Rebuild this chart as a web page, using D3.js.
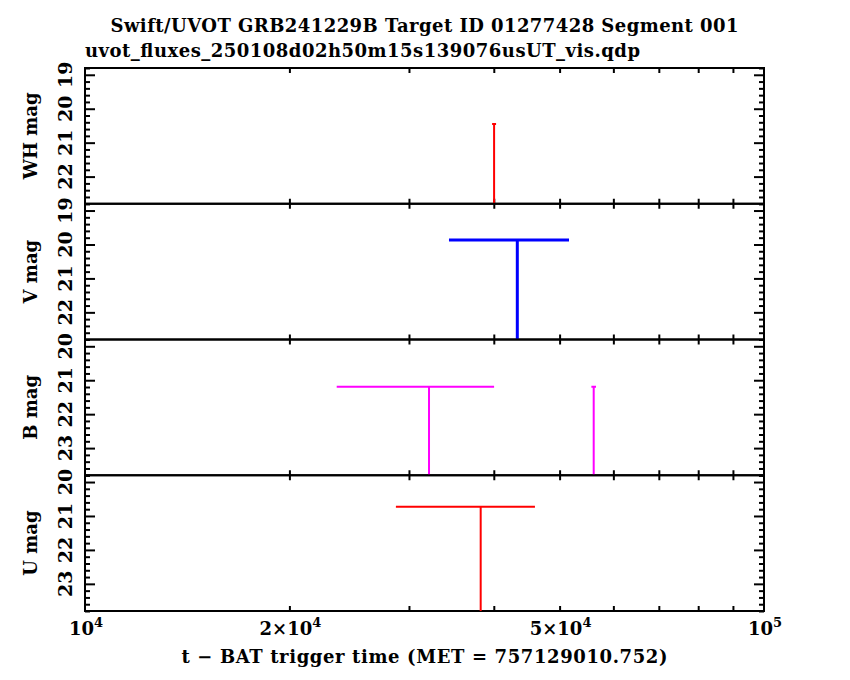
<!DOCTYPE html>
<html lang="en">
	<head>
		<meta charset="utf-8">
		<title>UVOT light curve</title>
		<script type="text/javascript" src="https://d3js.org/d3.v7.min.js"></script>
		<style>
			body { margin: 0; background: #fff; }
			text { font-family: "DejaVu Serif", serif; font-weight: bold; fill: #000; }
			.tick line { stroke: #000; stroke-width: 2; }
		</style>
	</head>
	<body>
		<script type="text/javascript">

			// ---------------- data ----------------
			var bands = ["WH", "V", "B", "U"];

			// mag axis range of each panel (top, bottom) and its labelled ticks
			var magRange = [[18.8, 22.8], [18.8, 22.8], [19.8, 23.8], [19.8, 23.8]];
			var magTicks = [[19, 20, 21, 22], [19, 20, 21, 22], [20, 21, 22, 23], [20, 21, 22, 23]];

			// upper limits: time (s), time bin edges, limiting mag
			var whTime = [40040],        whLo = [39770],        whHi = [40310],        whMag = [20.45];
			var vTime  = [43320],        vLo  = [34360],        vHi  = [51620],        vMag  = [19.87];
			var bTime  = [32110, 56130], bLo  = [23480, 55690], bHi  = [40040, 56570], bMag  = [21.19, 21.19];
			var uTime  = [38260],        uLo  = [28700],        uHi  = [45990],        uMag  = [20.73];

			var timeTicks = [2e4, 3e4, 4e4, 5e4, 6e4, 7e4, 8e4, 9e4];
			var timeLabels = [[1e4, "10", "4"], [2e4, "2×10", "4"], [5e4, "5×10", "4"], [1e5, "10", "5"]];

			var title = "Swift/UVOT GRB241229B Target ID 01277428 Segment 001";
			var subtitle = "uvot_fluxes_250108d02h50m15s139076usUT_vis.qdp";
			var xTitle = "t − BAT trigger time (MET = 757129010.752)";

			// styles
			var colors = {WH: "#ff0000", V: "#0000ff", B: "#ff00ff", U: "#ff0000"};
			var widths = {WH: 2, V: 3, B: 2, U: 2};

			var points = {
				WH: whTime.map(function(t, i) { return {t: t, lo: whLo[i], hi: whHi[i], mag: whMag[i]}; }),
				V:  vTime.map(function(t, i)  { return {t: t, lo: vLo[i],  hi: vHi[i],  mag: vMag[i]}; }),
				B:  bTime.map(function(t, i)  { return {t: t, lo: bLo[i],  hi: bHi[i],  mag: bMag[i]}; }),
				U:  uTime.map(function(t, i)  { return {t: t, lo: uLo[i],  hi: uHi[i],  mag: uMag[i]}; })
			};

			// ---------------- layout ----------------
			var W = 850, H = 680;
			var plotL = 85, plotR = 764, plotT = 68, panelH = 135.75;

			var svg = d3.select("body")
						.append("svg")
						.attr("width", W)
						.attr("height", H);

			var xScale = d3.scaleLog()
						   .domain([1e4, 1e5])
						   .range([plotL, plotR]);

			bands.forEach(function(band, i) {
				var top = plotT + i * panelH,
					bottom = top + panelH;

				var yScale = d3.scaleLinear()
							   .domain(magRange[i])
							   .range([top, bottom]);

				var minor = d3.range(Math.ceil(magRange[i][0] * 5), Math.floor(magRange[i][1] * 5) + 1)
							  .map(function(v) { return v / 5; })
							  .filter(function(v) { return Math.abs(v - Math.round(v)) > 1e-6; });

				var g = svg.append("g").attr("class", "panel");

				// clip so the limit lines stop at the frame
				svg.append("clipPath")
					.attr("id", "clip" + i)
					.append("rect")
						.attr("x", plotL)
						.attr("y", top)
						.attr("width", plotR - plotL)
						.attr("height", panelH);

				// y ticks, pointing inwards on both sides
				[[d3.axisRight, plotL], [d3.axisLeft, plotR]].forEach(function(a) {
					g.append("g")
						.attr("transform", "translate(" + a[1] + ",0)")
						.call(a[0](yScale).tickValues(magTicks[i]).tickSize(10).tickFormat(""))
						.call(function(s) { s.select(".domain").remove(); });
					g.append("g")
						.attr("transform", "translate(" + a[1] + ",0)")
						.call(a[0](yScale).tickValues(minor).tickSize(5).tickFormat(""))
						.call(function(s) { s.select(".domain").remove(); });
				});

				// x ticks on top and bottom of every panel
				g.append("g")
					.attr("transform", "translate(0," + top + ")")
					.call(d3.axisBottom(xScale).tickValues(timeTicks).tickSize(5).tickFormat(""))
					.call(function(s) { s.select(".domain").remove(); });
				g.append("g")
					.attr("transform", "translate(0," + bottom + ")")
					.call(d3.axisTop(xScale).tickValues(timeTicks).tickSize(5).tickFormat(""))
					.call(function(s) { s.select(".domain").remove(); });

				// frame
				g.append("rect")
					.attr("x", plotL)
					.attr("y", top)
					.attr("width", plotR - plotL)
					.attr("height", panelH)
					.attr("fill", "none")
					.attr("stroke", "#000")
					.attr("stroke-width", 2);

				// y tick labels (rotated)
				g.selectAll(".ylab")
					.data(magTicks[i])
					.enter()
					.append("text")
						.attr("class", "ylab")
						.attr("x", 72)
						.attr("y", function(d) { return yScale(d); })
						.attr("transform", function(d) { return "rotate(-90,72," + yScale(d) + ")"; })
						.attr("text-anchor", "middle")
						.style("font-size", "19px")
						.text(function(d) { return d; });

				// y axis title
				g.append("text")
					.attr("x", 37)
					.attr("y", (top + bottom) / 2)
					.attr("transform", "rotate(-90,37," + ((top + bottom) / 2) + ")")
					.attr("text-anchor", "middle")
					.style("font-size", "18px")
					.text(band + " mag");

				// upper limits: time bin bar plus a line down to the faint edge
				var marks = g.append("g").attr("clip-path", "url(#clip" + i + ")");
				marks.selectAll(".bin")
					.data(points[band])
					.enter()
					.append("line")
						.attr("x1", function(d) { return xScale(d.lo); })
						.attr("x2", function(d) { return xScale(d.hi); })
						.attr("y1", function(d) { return yScale(d.mag); })
						.attr("y2", function(d) { return yScale(d.mag); })
						.attr("stroke", colors[band])
						.attr("stroke-width", widths[band]);
				marks.selectAll(".lim")
					.data(points[band])
					.enter()
					.append("line")
						.attr("x1", function(d) { return xScale(d.t); })
						.attr("x2", function(d) { return xScale(d.t); })
						.attr("y1", function(d) { return yScale(d.mag); })
						.attr("y2", bottom)
						.attr("stroke", colors[band])
						.attr("stroke-width", widths[band]);
			});

			// x tick labels with superscript exponents
			var xl = svg.selectAll(".xlab")
						.data(timeLabels)
						.enter()
						.append("text")
							.attr("class", "xlab")
							.attr("x", function(d) { return xScale(d[0]) + 1; })
							.attr("y", 635)
							.attr("text-anchor", "middle")
							.style("font-size", "18px");
			xl.append("tspan").text(function(d) { return d[1]; });
			xl.append("tspan")
				.attr("dy", -8)
				.style("font-size", "13px")
				.text(function(d) { return d[2]; });

			// titles
			svg.append("text")
				.attr("x", (plotL + plotR) / 2)
				.attr("y", 663)
				.attr("text-anchor", "middle")
				.attr("textLength", 486)
				.style("font-size", "18px")
				.text(xTitle);

			svg.append("text")
				.attr("x", (plotL + plotR) / 2)
				.attr("y", 32)
				.attr("text-anchor", "middle")
				.attr("textLength", 628)
				.style("font-size", "18px")
				.text(title);

			svg.append("text")
				.attr("x", plotL)
				.attr("y", 57)
				.attr("textLength", 555)
				.style("font-size", "18px")
				.text(subtitle);

		</script>
	</body>
</html>
